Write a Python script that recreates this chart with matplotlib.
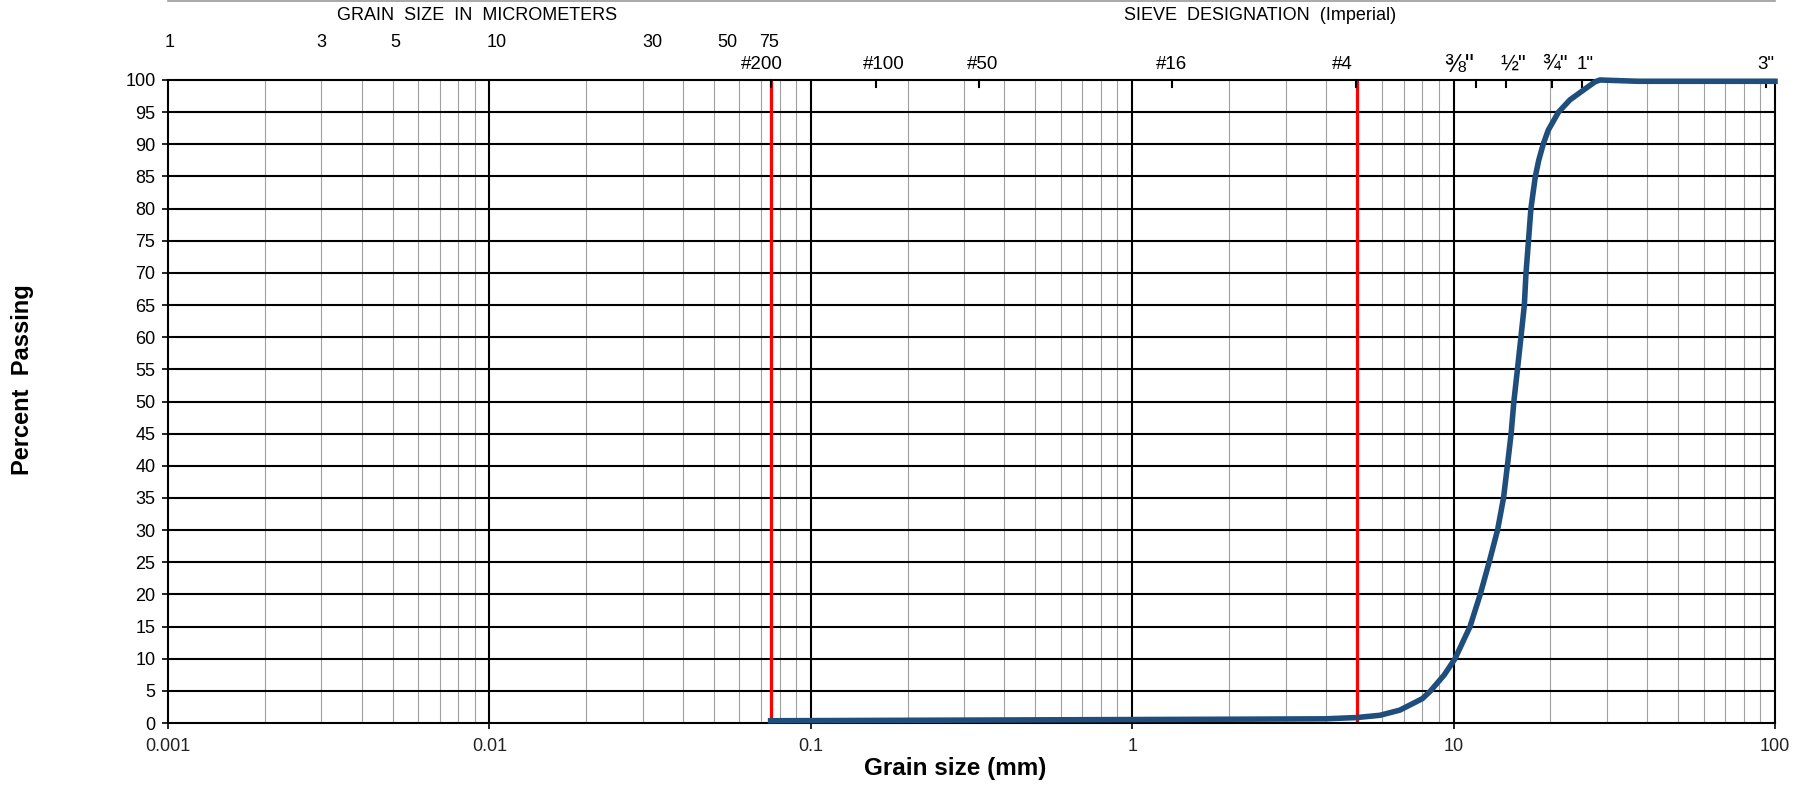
#!/usr/bin/env python3
import matplotlib
matplotlib.use("Agg")
import matplotlib.pyplot as plt
from matplotlib.lines import Line2D

plt.rcParams['font.family'] = ['Liberation Sans', 'DejaVu Sans']

# gradation curve (grain size in mm, percent passing)
size_mm = [0.075, 0.15, 0.3, 0.6, 1.18, 2.36, 4.0, 5.0, 5.9, 6.8, 7.45, 8.0,
           8.48, 9.36, 10.1, 11.25, 12.1, 12.9, 13.7, 14.3, 14.7, 15.1, 15.4,
           15.8, 16.2, 16.6, 16.8, 17.1, 17.4, 17.96, 18.4, 19.0, 19.7, 21.2,
           23.0, 25.3, 27.5, 28.5, 37.5, 50.0, 75.0, 100.0]
passing = [0.35, 0.4, 0.45, 0.5, 0.55, 0.6, 0.65, 0.85, 1.2, 2.0, 3.0, 3.8,
           5.0, 7.5, 10.0, 15.0, 20.0, 25.0, 30.0, 35.0, 40.0, 45.0, 50.0,
           55.0, 60.0, 65.0, 70.0, 75.0, 80.0, 85.0, 87.5, 90.0, 92.2, 95.0,
           96.9, 98.4, 99.7, 100.0, 99.8, 99.8, 99.8, 99.8]

# fines / gravel boundaries
limit_mm = [0.075, 5.0]

# top scale: micrometers
micron_vals = [1, 3, 5, 10, 30, 50, 75]
micron_dx = [2, 0, 3, 7, 10, 13, -2]          # label nudge, px

# top scale: sieve designations
sieve_labels = ['#200', '#100', '#50', '#16', '#4', '⅜"', '½"', '¾"', '1"', '3"']
sieve_mm = [0.075, 0.16, 0.334, 1.327, 4.97, 11.7, 14.6, 20.2, 25.1, 93.8]
sieve_dx = [-9, 7, 3, 0, -14, -16, 7, 3, 3, 0]  # label nudge, px
sieve_fs = [13.5, 13.5, 13.5, 13.5, 13.5, 18, 15.5, 15.5, 13.5, 13.5]

y_ticks = list(range(0, 101, 5))
x_decades = [0.001, 0.01, 0.1, 1, 10, 100]
x_labels = ['0.001', '0.01', '0.1', '1', '10', '100']

W, H = 1804, 786
fig = plt.figure(figsize=(W / 100, H / 100), dpi=100)
L, R, T, B = 168, 1775, 80, 723
ax = fig.add_axes([L / W, 1 - B / H, (R - L) / W, (B - T) / H])
ax.set_xscale('log')
ax.set_xlim(0.001, 100)
ax.set_ylim(0, 100)

# minor vertical grid
for dec in x_decades[:-1]:
    for m in range(2, 10):
        ax.axvline(dec * m, color='#a0a0a0', lw=0.8, zorder=1)
# major vertical grid
for d in x_decades[1:-1]:
    ax.axvline(d, color='black', lw=1.5, zorder=2)
# horizontal grid
for yv in y_ticks[1:-1]:
    ax.axhline(yv, color='black', lw=1.5, zorder=2)

for xv in limit_mm:
    ax.axvline(xv, color='#ff0000', lw=2.3, zorder=3)

ax.plot(size_mm, passing, color='#1f4e7d', lw=4.0, zorder=5,
        solid_joinstyle='round', clip_on=False)

for sp in ax.spines.values():
    sp.set_linewidth(1.5)
    sp.set_zorder(4)

ax.set_yticks(y_ticks)
ax.set_yticklabels([str(v) for v in y_ticks], fontsize=13)
ax.set_xticks(x_decades)
ax.set_xticklabels(x_labels, fontsize=13, color='#222222')
ax.xaxis.set_minor_locator(matplotlib.ticker.NullLocator())
ax.tick_params(axis='both', which='major', direction='out', length=4,
               width=1.2, pad=5)
ax.tick_params(axis='x', pad=7)

# sieve ticks on top edge
for xv in sieve_mm:
    ax.plot([xv, xv], [100, 98.9], color='black', lw=1.5, zorder=4,
            clip_on=False)

tr = ax.get_xaxis_transform()
for v, dx in zip(micron_vals, micron_dx):
    ax.annotate(str(v), xy=(v / 1000.0, 1.059), xycoords=tr,
                xytext=(dx, 0), textcoords='offset pixels',
                ha='center', va='center', fontsize=13)
for lab, xv, dx, fs in zip(sieve_labels, sieve_mm, sieve_dx, sieve_fs):
    ax.annotate(lab, xy=(xv, 1.024), xycoords=tr,
                xytext=(dx, 0), textcoords='offset pixels',
                ha='center', va='center', fontsize=fs)

fig.text(477 / W, 1 - 16 / H, 'GRAIN  SIZE  IN  MICROMETERS',
         ha='center', va='center', fontsize=13)
fig.text(1260 / W, 1 - 16 / H, 'SIEVE  DESIGNATION  (Imperial)',
         ha='center', va='center', fontsize=13)
fig.add_artist(Line2D([L / W, R / W], [1 - 1.0 / H, 1 - 1.0 / H],
                      transform=fig.transFigure, color='#999999', lw=1.2))

fig.text(23 / W, 1 - 380 / H, 'Percent  Passing', rotation=90,
         ha='center', va='center', fontsize=17, fontweight='bold')
fig.text(955 / W, 1 - 768 / H, 'Grain size (mm)',
         ha='center', va='center', fontsize=17.5, fontweight='bold')

fig.savefig('out.png', dpi=100)
